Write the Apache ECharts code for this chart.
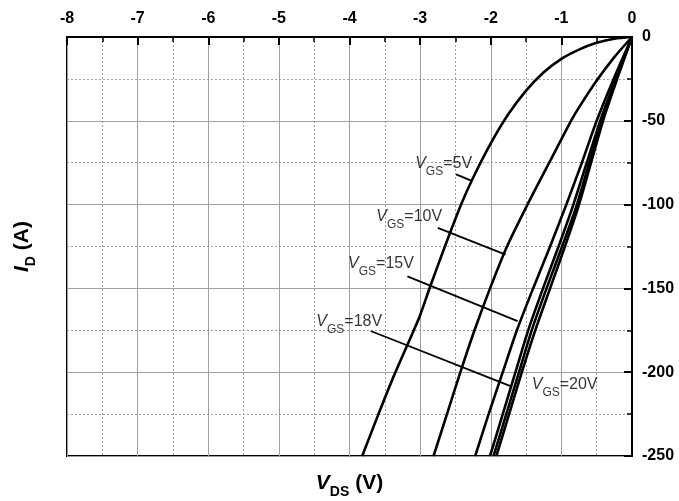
<!DOCTYPE html>
<html>
<head>
<meta charset="utf-8">
<script src="https://cdn.jsdelivr.net/npm/echarts@6/dist/echarts.min.js"></script>
<style>
  html, body { margin: 0; padding: 0; background: #fff; }
  #chart { width: 679px; height: 501px; }
</style>
</head>
<body>
<div id="chart"></div>
<script>
// output curves, [VDS (V), ID (A)]
var vgs5 = [[0, 0], [-0.25, -1], [-0.5, -3.5], [-0.75, -7.5], [-1, -13], [-1.25, -21], [-1.5, -32],
  [-1.75, -46], [-2, -63.5], [-2.25, -84], [-2.42, -100], [-2.64, -124], [-2.85, -148], [-3.0, -166],
  [-3.1, -176], [-3.36, -201], [-3.59, -225], [-3.82, -250]];
var vgs10 = [[0, 0], [-0.25, -12], [-0.5, -26], [-0.75, -42], [-0.85, -49], [-1.16, -74], [-1.48, -100],
  [-1.77, -125], [-2.01, -150], [-2.23, -175], [-2.43, -200], [-2.62, -225], [-2.81, -250]];
var vgs15 = [[0, 0], [-0.26, -25], [-0.5, -50], [-0.71, -75], [-0.93, -100], [-1.16, -125], [-1.40, -150],
  [-1.63, -175], [-1.83, -200], [-2.03, -225], [-2.22, -250]];
var vgs18 = [[0, 0], [-0.23, -25], [-0.45, -50], [-0.83, -100], [-1.04, -125], [-1.26, -150], [-1.47, -175],
  [-1.65, -200], [-1.83, -225], [-2.01, -250]];
var vgs20 = [[0, 0], [-0.22, -25], [-0.43, -50], [-0.78, -100], [-0.99, -125], [-1.21, -150], [-1.42, -175],
  [-1.60, -200], [-1.78, -225], [-1.96, -250]];
var vgs20b = [[0, 0], [-0.21, -25], [-0.41, -50], [-0.75, -100], [-0.95, -125], [-1.16, -150], [-1.37, -175],
  [-1.56, -200], [-1.74, -225], [-1.92, -250]];

var curves = [vgs5, vgs10, vgs15, vgs18, vgs20, vgs20b];

// label text and anchor (left edge, data coords)
var labelText = ['5V', '10V', '15V', '18V', '20V'];
var labelPos = [[-3.07, -75.3], [-3.62, -107.2], [-4.02, -135], [-4.47, -169.7], [-1.42, -207.3]];

// leader lines from label to curve
var leaders = [
  [[-2.49, -82.0], [-2.27, -85.8]],
  [[-2.75, -113.9], [-1.79, -129.8]],
  [[-3.18, -142.8], [-1.62, -169.5]],
  [[-3.70, -175.4], [-1.72, -208.3]]
];

var xTicks = { min: -8, max: 0, step: 1 };
var yTicks = { min: -250, max: 0, step: 50 };

var FONT = 'Liberation Sans, Arial, sans-serif';

var series = [];
curves.forEach(function (c) {
  series.push({
    type: 'line', data: c, showSymbol: false, smooth: 0.25,
    lineStyle: { color: '#000', width: 2.6 }, silent: true, z: 5
  });
});
leaders.forEach(function (l) {
  series.push({
    type: 'line', data: l, showSymbol: false,
    lineStyle: { color: '#000', width: 1.8 }, silent: true, z: 4
  });
});
series.push({
  type: 'scatter', symbolSize: 0, silent: true, z: 6,
  data: labelPos.map(function (p, i) { return { value: p, name: labelText[i] }; }),
  label: {
    show: true, position: 'right', distance: 0, fontFamily: FONT, color: '#000',
    formatter: function (p) { return '{v|V}{s|GS}{n|=' + p.name + '}'; },
    rich: {
      v: { fontSize: 16, fontStyle: 'italic', lineHeight: 16, verticalAlign: 'top', fontFamily: FONT, color: '#000' },
      s: { fontSize: 12, lineHeight: 12, padding: [10, 0, 0, 0], verticalAlign: 'top', fontFamily: FONT, color: '#000' },
      n: { fontSize: 16, lineHeight: 16, verticalAlign: 'top', fontFamily: FONT, color: '#000' }
    }
  }
});

var titleRich = {
  v: { fontSize: 21, fontWeight: 'bold', fontStyle: 'italic', lineHeight: 21, verticalAlign: 'top', fontFamily: FONT, color: '#000' },
  s: { fontSize: 14, fontWeight: 'bold', lineHeight: 14, padding: [12, 0, 0, 0], verticalAlign: 'top', fontFamily: FONT, color: '#000' },
  n: { fontSize: 21, fontWeight: 'bold', lineHeight: 21, verticalAlign: 'top', fontFamily: FONT, color: '#000' }
};

var chart = echarts.init(document.getElementById('chart'), null, { renderer: 'canvas' });
chart.setOption({
  animation: false,
  backgroundColor: '#fff',
  grid: {
    left: 67, right: 47, top: 37, bottom: 45, show: true, borderColor: '#000', borderWidth: 2,
    containLabel: false, outerBoundsMode: 'none'
  },
  xAxis: [{
    type: 'value', position: 'top', min: xTicks.min, max: xTicks.max, interval: xTicks.step,
    axisLine: { show: true, lineStyle: { color: '#000', width: 2 } },
    axisTick: { show: true, inside: true, length: 8, lineStyle: { color: '#000', width: 2 } },
    minorTick: { show: true, splitNumber: 2, length: 5, lineStyle: { color: '#000', width: 1.5 } },
    axisLabel: { color: '#000', fontWeight: 'bold', fontSize: 16, fontFamily: FONT, margin: 10 },
    splitLine: { show: true, lineStyle: { color: '#a0a0a0', width: 1 } },
    minorSplitLine: { show: true, lineStyle: { color: '#a0a0a0', width: 1, type: [2, 2] } }
  }, {
    type: 'value', position: 'bottom', min: xTicks.min, max: xTicks.max,
    axisLine: { show: false }, axisTick: { show: false }, axisLabel: { show: false }, splitLine: { show: false },
    name: '{v|V}{s|DS}{n| (V)}', nameLocation: 'middle', nameGap: 17,
    nameTextStyle: { fontFamily: FONT, color: '#000', rich: titleRich }
  }],
  yAxis: [{
    type: 'value', position: 'right', min: yTicks.min, max: yTicks.max, interval: yTicks.step,
    axisLine: { show: true, lineStyle: { color: '#000', width: 2 } },
    axisTick: { show: true, inside: true, length: 8, lineStyle: { color: '#000', width: 2 } },
    minorTick: { show: true, splitNumber: 2, length: 5, lineStyle: { color: '#000', width: 1.5 } },
    axisLabel: { color: '#000', fontWeight: 'bold', fontSize: 16, fontFamily: FONT, margin: 10 },
    splitLine: { show: true, lineStyle: { color: '#a0a0a0', width: 1 } },
    minorSplitLine: { show: true, lineStyle: { color: '#a0a0a0', width: 1, type: [2, 2] } }
  }, {
    type: 'value', position: 'left', min: yTicks.min, max: yTicks.max,
    axisLine: { show: false }, axisTick: { show: false }, axisLabel: { show: false }, splitLine: { show: false },
    name: '{v|I}{s|D}{n| (A)}', nameLocation: 'middle', nameGap: 34, nameRotate: 90,
    nameTextStyle: { fontFamily: FONT, color: '#000', rich: titleRich }
  }],
  series: series
});
</script>
</body>
</html>
